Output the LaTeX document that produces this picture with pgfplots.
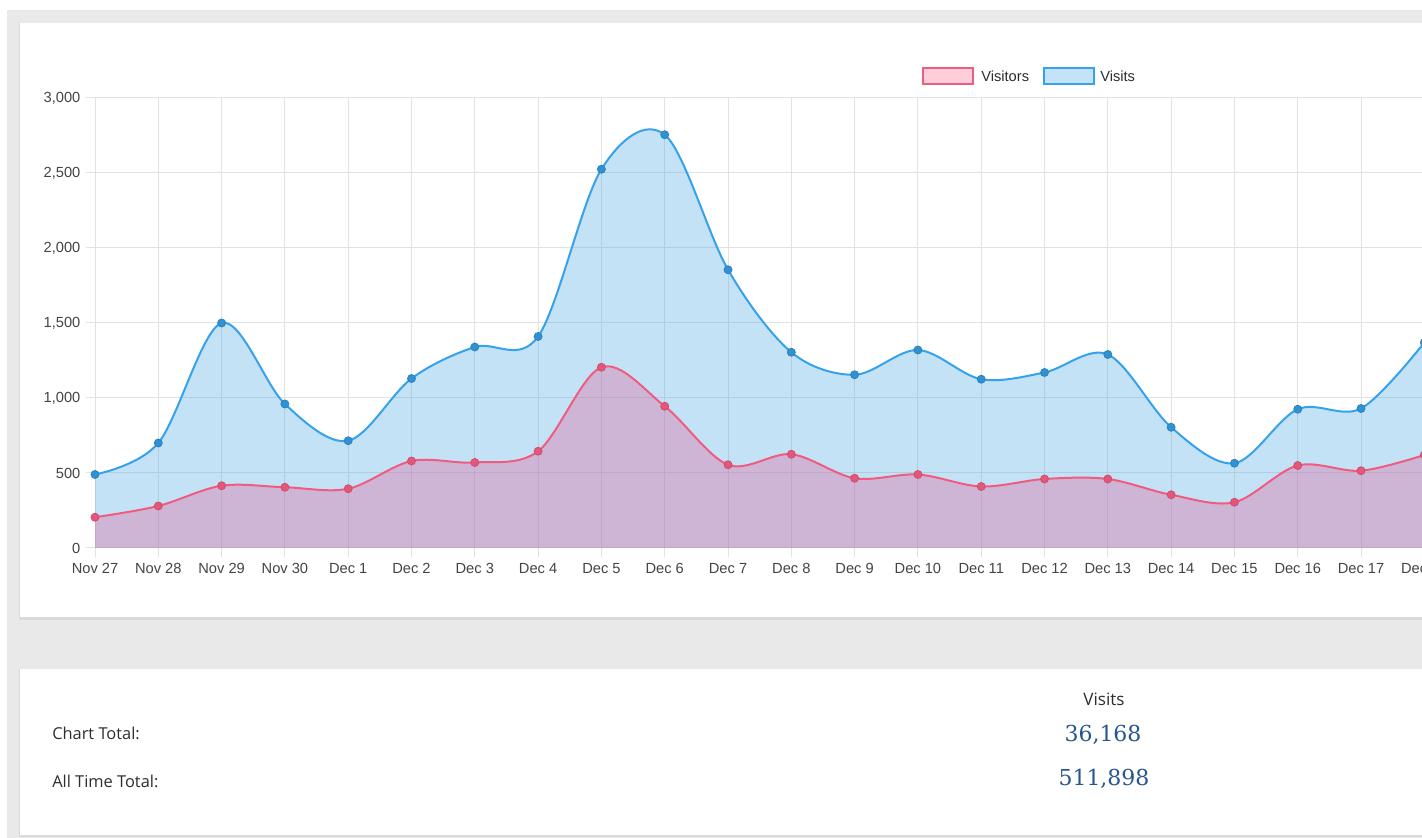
\documentclass[border=0pt]{standalone}
\usepackage{fontspec}
\setmainfont{Liberation Sans}
\newfontfamily\osans{Open Sans}
\newfontfamily\dserif{DejaVu Serif}
\usepackage{pgfplots}
\pgfplotsset{compat=1.18}
\usepackage{pgfplotstable}

\definecolor{bgray}{RGB}{233,233,233}
\definecolor{shad}{RGB}{218,218,218}
\definecolor{gridc}{RGB}{226,226,226}
\definecolor{blueL}{RGB}{54,162,235}
\definecolor{blueF}{RGB}{62,162,228}
\definecolor{pinkL}{RGB}{240,92,128}
\definecolor{pinkF}{RGB}{228,98,153}
\definecolor{pinkBox}{RGB}{255,206,216}
\definecolor{blueBox}{RGB}{197,227,247}
\definecolor{tickc}{RGB}{68,68,68}
\definecolor{labc}{RGB}{45,45,45}
\definecolor{numc}{RGB}{40,86,138}

\pgfplotstableread{
x visits visitors
0 490 205
1 700 280
2 1500 415
3 960 405
4 715 395
5 1130 580
6 1340 570
7 1410 645
8 2525 1205
9 2755 945
10 1855 555
11 1305 625
12 1155 465
13 1320 490
14 1125 410
15 1170 460
16 1290 460
17 805 355
18 565 305
19 925 550
20 930 515
21 1370 620
}\data

\begin{document}
\begin{tikzpicture}[x=0.75pt,y=0.75pt]
\clip (0,0) rectangle (1422,838);
\fill[white] (0,0) rectangle (1422,838);
\fill[bgray] (7,0) rectangle (1422,828);
% panels
\fill[shad] (19,218) rectangle (1423,815);
\fill[white] (20,221) rectangle (1423,815);
\fill[shad] (19,1) rectangle (1423,169);
\fill[white] (20,3) rectangle (1423,169);

\begin{axis}[
  at={(71.25pt,217.5pt)}, anchor=south west,
  scale only axis, width=997pt, height=337.5pt,
  xmin=0, xmax=21, ymin=0, ymax=3000,
  xtick={0,...,21},
  xticklabels={Nov 27,Nov 28,Nov 29,Nov 30,Dec 1,Dec 2,Dec 3,Dec 4,Dec 5,Dec 6,Dec 7,Dec 8,Dec 9,Dec 10,Dec 11,Dec 12,Dec 13,Dec 14,Dec 15,Dec 16,Dec 17,Dec 18},
  ytick={0,500,...,3000},
  grid=major, grid style={gridc, line width=0.75pt},
  axis line style={draw=none},
  xtick pos=bottom, ytick pos=left,
  tick align=outside, major tick length=7pt,
  tick style={gridc, line width=0.75pt},
  tick label style={font=\fontsize{11}{13}\selectfont, text=tickc},
  /pgf/number format/assume math mode=true,
  /pgf/number format/1000 sep={,},
  scaled y ticks=false,
  xticklabel style={inner sep=0pt, anchor=north, yshift=-4.5pt},
  yticklabel style={inner sep=0pt, anchor=east, xshift=-3.75pt},
]
\addplot[smooth, tension=0.55, draw=none, fill=blueF, fill opacity=0.3, forget plot]
  table[x=x,y=visits]{\data} \closedcycle;
\addplot[smooth, tension=0.55, draw=blueL, line width=1.5pt, mark=*, mark size=3pt,
  mark options={fill=blueL!90!black, draw=blueL!80!black, line width=0.6pt, solid}]
  table[x=x,y=visits]{\data};
\addplot[smooth, tension=0.55, draw=none, fill=pinkF, fill opacity=0.35, forget plot]
  table[x=x,y=visitors]{\data} \closedcycle;
\addplot[smooth, tension=0.55, draw=pinkL, line width=1.5pt, mark=*, mark size=3pt,
  mark options={fill=pinkL!95!black, draw=pinkL!85!black, line width=0.6pt, solid}]
  table[x=x,y=visitors]{\data};
\end{axis}

% legend
\draw[fill=pinkBox, draw=pinkL, line width=1.5pt] (922.5,753.5) rectangle (972.5,769.5);
\node[anchor=west, inner sep=0pt, text=labc, font=\fontsize{11}{13}\selectfont] at (981,762) {Visitors};
\draw[fill=blueBox, draw=blueL, line width=1.5pt] (1043.5,753.5) rectangle (1093.5,769.5);
\node[anchor=west, inner sep=0pt, text=labc, font=\fontsize{11}{13}\selectfont] at (1100,762) {Visits};

% totals panel
\node[anchor=west, inner sep=0pt, text=labc, font=\osans\fontsize{12.3}{15}\selectfont] at (52,105) {Chart Total:};
\node[anchor=west, inner sep=0pt, text=labc, font=\osans\fontsize{12.3}{15}\selectfont] at (52,57) {All Time Total:};
\node[inner sep=0pt, text=labc, font=\osans\fontsize{12.8}{15}\selectfont] at (1104,139) {Visits};
\node[inner sep=0pt, text=numc, font=\dserif\fontsize{16.5}{20}\selectfont] at (1103,103) {36,168};
\node[inner sep=0pt, text=numc, font=\dserif\fontsize{16.5}{20}\selectfont] at (1104,59) {511,898};
\end{tikzpicture}
\end{document}
